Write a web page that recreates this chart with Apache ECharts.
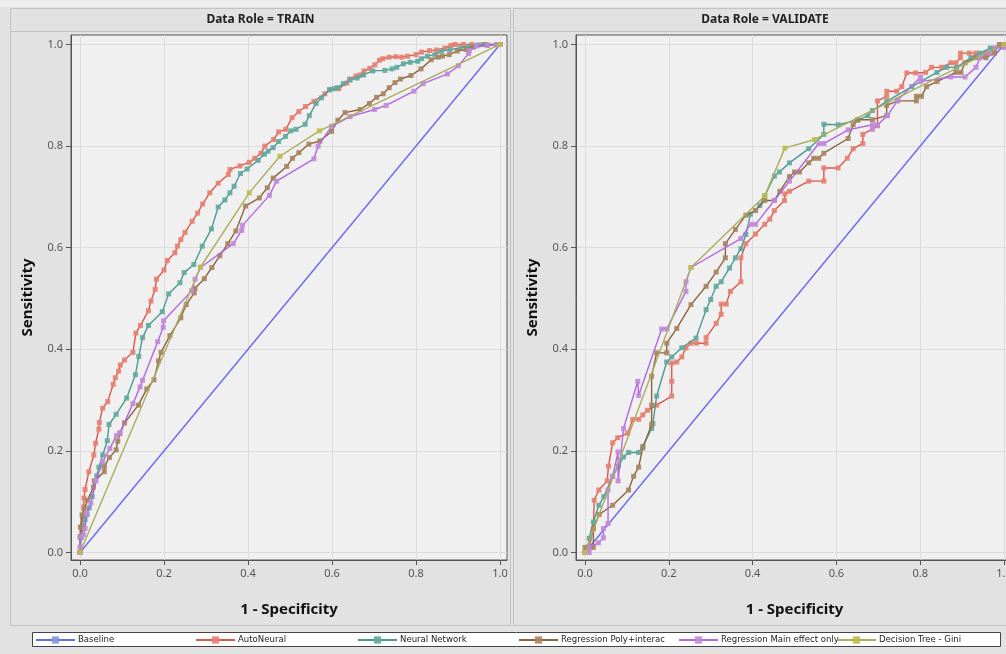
<!DOCTYPE html>
<html><head><meta charset="utf-8">
<script src="https://cdn.jsdelivr.net/npm/echarts@6/dist/echarts.min.js"></script>
<style>html,body{margin:0;padding:0;background:#e2e2e2}#c{width:1006px;height:654px}</style>
</head><body><div id="c"></div><script>
var seriesNames = ['Baseline','AutoNeural','Neural Network','Regression Poly+interac','Regression Main effect only','Decision Tree - Gini'];
var tickValues = [0, 0.2, 0.4, 0.6, 0.8, 1.0];
var panelTitles = ['Data Role = TRAIN', 'Data Role = VALIDATE'];

var trainBaseline = [[0,0],[1,1]];
var trainAutoNeural = [[0,0],[0.002,0.03],[0.004,0.05],[0.006,0.07],[0.009,0.09],[0.0095,0.107],[0.012,0.124],[0.021,0.159],[0.033,0.192],[0.037,0.215],[0.045,0.243],[0.046,0.256],[0.054,0.284],[0.066,0.297],[0.079,0.331],[0.084,0.344],[0.092,0.357],[0.096,0.369],[0.106,0.379],[0.126,0.394],[0.133,0.432],[0.144,0.447],[0.163,0.476],[0.169,0.495],[0.179,0.518],[0.182,0.538],[0.2,0.556],[0.208,0.575],[0.226,0.590],[0.232,0.603],[0.240,0.616],[0.25,0.630],[0.267,0.652],[0.280,0.668],[0.292,0.686],[0.309,0.708],[0.329,0.727],[0.353,0.744],[0.357,0.754],[0.381,0.761],[0.403,0.768],[0.416,0.776],[0.431,0.786],[0.440,0.800],[0.461,0.813],[0.473,0.828],[0.49,0.833],[0.505,0.856],[0.521,0.868],[0.537,0.878],[0.557,0.888],[0.583,0.903],[0.594,0.911],[0.616,0.913],[0.635,0.924],[0.642,0.932],[0.657,0.938],[0.667,0.940],[0.676,0.948],[0.69,0.953],[0.702,0.960],[0.713,0.969],[0.721,0.972],[0.736,0.975],[0.752,0.976],[0.766,0.975],[0.78,0.977],[0.8,0.980],[0.813,0.985],[0.832,0.988],[0.849,0.989],[0.869,0.993],[0.883,0.998],[0.893,1],[0.913,1],[0.933,1],[0.96,1],[1,1]];
var trainNeuralNetwork = [[0,0],[0.003,0.03],[0.007,0.05],[0.012,0.065],[0.017,0.075],[0.022,0.088],[0.029,0.11],[0.04,0.151],[0.045,0.168],[0.054,0.192],[0.065,0.220],[0.069,0.252],[0.086,0.272],[0.111,0.304],[0.132,0.350],[0.140,0.386],[0.149,0.423],[0.163,0.447],[0.196,0.474],[0.211,0.509],[0.238,0.531],[0.248,0.551],[0.271,0.567],[0.291,0.603],[0.313,0.637],[0.329,0.680],[0.345,0.694],[0.357,0.708],[0.367,0.721],[0.382,0.746],[0.398,0.755],[0.424,0.772],[0.439,0.784],[0.448,0.790],[0.460,0.797],[0.473,0.809],[0.489,0.819],[0.502,0.830],[0.514,0.833],[0.536,0.843],[0.546,0.860],[0.562,0.884],[0.575,0.895],[0.594,0.911],[0.605,0.913],[0.613,0.915],[0.627,0.923],[0.643,0.930],[0.66,0.934],[0.675,0.940],[0.697,0.948],[0.726,0.949],[0.743,0.952],[0.754,0.955],[0.77,0.962],[0.786,0.965],[0.804,0.967],[0.813,0.972],[0.827,0.977],[0.845,0.980],[0.861,0.987],[0.881,0.990],[0.905,0.993],[0.925,0.996],[0.948,0.999],[0.964,1],[1,1]];
var trainRegPoly = [[0,0],[0,0.031],[0.001,0.05],[0.005,0.074],[0.01,0.085],[0.018,0.103],[0.032,0.129],[0.034,0.141],[0.058,0.159],[0.058,0.169],[0.07,0.187],[0.086,0.202],[0.09,0.219],[0.095,0.234],[0.106,0.255],[0.139,0.29],[0.159,0.322],[0.176,0.34],[0.187,0.377],[0.193,0.394],[0.214,0.427],[0.24,0.462],[0.253,0.488],[0.272,0.511],[0.274,0.520],[0.296,0.539],[0.314,0.561],[0.333,0.584],[0.352,0.608],[0.371,0.633],[0.394,0.682],[0.427,0.698],[0.446,0.718],[0.46,0.737],[0.492,0.760],[0.506,0.776],[0.521,0.787],[0.545,0.804],[0.571,0.810],[0.599,0.829],[0.614,0.851],[0.631,0.866],[0.667,0.872],[0.689,0.884],[0.706,0.896],[0.722,0.903],[0.736,0.915],[0.75,0.925],[0.763,0.932],[0.788,0.939],[0.812,0.952],[0.836,0.970],[0.853,0.975],[0.863,0.977],[0.879,0.980],[0.898,0.987],[0.919,0.990],[0.937,0.995],[0.97,0.999],[0.992,1],[1,1]];
var trainRegMain = [[0,0],[0,0.011],[0.002,0.031],[0.008,0.035],[0.012,0.047],[0.016,0.077],[0.026,0.097],[0.038,0.141],[0.054,0.179],[0.071,0.205],[0.087,0.230],[0.095,0.236],[0.126,0.293],[0.143,0.326],[0.149,0.339],[0.185,0.415],[0.198,0.443],[0.199,0.456],[0.266,0.515],[0.274,0.538],[0.287,0.561],[0.365,0.608],[0.385,0.634],[0.387,0.644],[0.451,0.703],[0.468,0.731],[0.557,0.775],[0.567,0.800],[0.599,0.839],[0.643,0.858],[0.701,0.872],[0.729,0.880],[0.795,0.908],[0.817,0.923],[0.875,0.942],[0.901,0.958],[0.925,0.982],[0.927,0.988],[0.944,0.997],[0.97,0.998],[0.992,1],[1,1]];
var trainTree = [[0,0],[0.287,0.562],[0.403,0.708],[0.476,0.780],[0.570,0.830],[1,1]];

var validBaseline = [[0,0],[1,1]];
var validAutoNeural = [[0,0],[0.01,0.01],[0.02,0.047],[0.022,0.103],[0.033,0.123],[0.053,0.141],[0.056,0.170],[0.066,0.216],[0.078,0.226],[0.102,0.235],[0.114,0.262],[0.128,0.262],[0.138,0.271],[0.149,0.280],[0.171,0.290],[0.207,0.308],[0.207,0.337],[0.207,0.373],[0.219,0.375],[0.231,0.385],[0.241,0.403],[0.253,0.412],[0.266,0.412],[0.289,0.412],[0.289,0.423],[0.313,0.451],[0.325,0.469],[0.325,0.489],[0.337,0.489],[0.347,0.514],[0.372,0.533],[0.372,0.580],[0.384,0.608],[0.407,0.627],[0.429,0.646],[0.441,0.656],[0.452,0.673],[0.476,0.693],[0.477,0.706],[0.488,0.711],[0.534,0.731],[0.570,0.731],[0.570,0.757],[0.604,0.757],[0.626,0.776],[0.640,0.795],[0.663,0.805],[0.663,0.823],[0.698,0.84],[0.698,0.889],[0.72,0.898],[0.72,0.908],[0.744,0.908],[0.756,0.917],[0.768,0.944],[0.789,0.944],[0.813,0.945],[0.827,0.955],[0.851,0.955],[0.873,0.964],[0.885,0.964],[0.896,0.974],[0.896,0.983],[0.917,0.983],[0.933,0.983],[0.957,0.983],[0.977,0.991],[0.993,1],[1,1]];
var validNeuralNetwork = [[0,0],[0.007,0.011],[0.01,0.028],[0.02,0.06],[0.033,0.093],[0.045,0.11],[0.066,0.150],[0.08,0.17],[0.092,0.188],[0.104,0.197],[0.128,0.197],[0.138,0.209],[0.159,0.244],[0.162,0.254],[0.171,0.308],[0.195,0.375],[0.207,0.385],[0.231,0.403],[0.265,0.422],[0.289,0.478],[0.300,0.498],[0.313,0.524],[0.325,0.533],[0.345,0.56],[0.359,0.580],[0.372,0.598],[0.384,0.626],[0.395,0.666],[0.417,0.683],[0.429,0.702],[0.452,0.741],[0.464,0.749],[0.488,0.767],[0.534,0.795],[0.570,0.823],[0.570,0.843],[0.604,0.842],[0.651,0.851],[0.675,0.860],[0.686,0.870],[0.72,0.888],[0.780,0.917],[0.840,0.945],[0.863,0.955],[0.887,0.955],[0.921,0.974],[0.943,0.983],[0.967,0.993],[1,1]];
var validRegPoly = [[0,0],[0,0.01],[0.02,0.01],[0.02,0.047],[0.034,0.075],[0.066,0.093],[0.104,0.123],[0.116,0.150],[0.128,0.168],[0.138,0.206],[0.159,0.252],[0.159,0.290],[0.159,0.347],[0.171,0.393],[0.195,0.393],[0.195,0.412],[0.219,0.441],[0.253,0.488],[0.289,0.524],[0.313,0.552],[0.335,0.580],[0.335,0.608],[0.359,0.636],[0.384,0.664],[0.407,0.673],[0.429,0.693],[0.452,0.693],[0.465,0.711],[0.488,0.740],[0.500,0.749],[0.512,0.749],[0.534,0.767],[0.546,0.776],[0.558,0.776],[0.570,0.786],[0.628,0.815],[0.640,0.842],[0.651,0.852],[0.686,0.852],[0.720,0.860],[0.720,0.880],[0.746,0.889],[0.791,0.889],[0.791,0.898],[0.803,0.898],[0.815,0.917],[0.840,0.927],[0.885,0.945],[0.897,0.945],[0.907,0.964],[0.933,0.974],[0.957,0.974],[0.977,0.983],[0.989,1],[1,1]];
var validRegMain = [[0,0],[0.01,0],[0.01,0.01],[0.032,0.019],[0.044,0.029],[0.044,0.047],[0.055,0.057],[0.055,0.123],[0.066,0.150],[0.079,0.198],[0.079,0.141],[0.092,0.244],[0.126,0.337],[0.128,0.309],[0.183,0.44],[0.195,0.44],[0.241,0.514],[0.241,0.533],[0.253,0.561],[0.372,0.618],[0.395,0.646],[0.407,0.646],[0.452,0.693],[0.488,0.731],[0.558,0.805],[0.570,0.805],[0.628,0.832],[0.686,0.842],[0.686,0.833],[0.698,0.842],[0.722,0.860],[0.746,0.890],[0.801,0.936],[0.801,0.927],[0.873,0.936],[0.907,0.936],[0.933,0.955],[0.943,0.974],[0.965,0.983],[0.977,0.993],[1,0.994],[1,1]];
var validTree = [[0,0],[0.253,0.561],[0.429,0.702],[0.477,0.796],[0.548,0.813],[1,1]];

var lineColors = ['#6a6af0','#d9584f','#4a9a90','#8a6440','#b268e4','#a9ad5c'];
var markerColors = ['#7f9bd9','#e8806f','#62a9a0','#a8845e','#c08ad8','#bcbc4c'];

var trainData = [trainBaseline, trainAutoNeural, trainNeuralNetwork, trainRegPoly, trainRegMain, trainTree];
var validData = [validBaseline, validAutoNeural, validNeuralNetwork, validRegPoly, validRegMain, validTree];

var grids = [
  {left: 71, top: 35, width: 436, height: 525, xmin: -9/420, xmax: 1 + 7/420},
  {left: 576, top: 35, width: 437, height: 525, xmin: -9/419, xmax: 1 + 9/419}
];
var ymin = -7.5/508.5, ymax = 1 + 9.5/508.5;

var fontMain = "'Noto Sans', 'DejaVu Sans', sans-serif";

function makeXAxis(i) {
  return {
    type: 'value', gridIndex: i, min: grids[i].xmin, max: grids[i].xmax,
    axisLine: {show: true, onZero: false, lineStyle: {color: '#555'}},
    axisTick: {show: true, length: 5, customValues: tickValues, lineStyle: {color: '#555'}},
    axisLabel: {customValues: tickValues, formatter: function(v){return v.toFixed(1);}, color: '#555', fontSize: 11, margin: 8, fontFamily: fontMain},
    splitLine: {show: true, lineStyle: {color: '#dcdcdc', width: 1}},
    name: '1 - Specificity', nameLocation: 'middle', nameGap: 42,
    nameTextStyle: {fontSize: 15, fontWeight: 'bold', color: '#111', fontFamily: fontMain}
  };
}
function makeYAxis(i) {
  return {
    type: 'value', gridIndex: i, min: ymin, max: ymax,
    axisLine: {show: true, onZero: false, lineStyle: {color: '#555'}},
    axisTick: {show: true, length: 5, customValues: tickValues, lineStyle: {color: '#555'}},
    axisLabel: {customValues: tickValues, formatter: function(v){return v.toFixed(1);}, color: '#555', fontSize: 11, margin: 8, fontFamily: fontMain},
    splitLine: {show: true, lineStyle: {color: '#dcdcdc', width: 1}},
    name: 'Sensitivity', nameLocation: 'middle', nameGap: 36,
    nameTextStyle: {fontSize: 15, fontWeight: 'bold', color: '#111', fontFamily: fontMain}
  };
}

var series = [];
[trainData, validData].forEach(function(set, gi) {
  set.forEach(function(d, si) {
    series.push({
      name: seriesNames[si], type: 'line', xAxisIndex: gi, yAxisIndex: gi,
      data: d, symbol: 'rect', symbolSize: si === 0 ? 4 : 5, showAllSymbol: true,
      lineStyle: {color: lineColors[si], width: 1.4},
      itemStyle: {color: markerColors[si], opacity: 0.9},
      z: si === 0 ? 1 : 2 + si,
      emphasis: {disabled: true}
    });
  });
});

var legendLefts = [35, 195, 357, 518, 678, 836];
var legends = seriesNames.map(function(n, i) {
  return {
    data: [n], left: legendLefts[i], top: 635, padding: 0, itemWidth: 39, itemHeight: 9, itemGap: 0,
    textStyle: {fontSize: 9.5, color: '#222', fontFamily: "'Liberation Sans Narrow', 'DejaVu Sans Condensed', sans-serif", padding: [0,0,0,-2]},
    selectedMode: false
  };
});

var graphics = [
  {type: 'rect', shape: {x: 0, y: 0, width: 1006, height: 7}, style: {fill: '#eeeeee'}, z: -20},
  {type: 'rect', shape: {x: 10.5, y: 8.5, width: 500, height: 617}, style: {fill: '#e2e2e2', stroke: '#c2c2c2', lineWidth: 1}, z: -10},
  {type: 'line', shape: {x1: 10.5, y1: 31.5, x2: 510.5, y2: 31.5}, style: {stroke: '#c2c2c2', lineWidth: 1}, z: -9},
  {type: 'rect', shape: {x: 513.5, y: 8.5, width: 500, height: 617}, style: {fill: '#e2e2e2', stroke: '#c2c2c2', lineWidth: 1}, z: -10},
  {type: 'line', shape: {x1: 513.5, y1: 31.5, x2: 1013.5, y2: 31.5}, style: {stroke: '#c2c2c2', lineWidth: 1}, z: -9},
  {type: 'rect', shape: {x: 32.5, y: 632.5, width: 968, height: 14}, style: {fill: '#ffffff', stroke: '#444', lineWidth: 1}, z: -10},
  {type: 'text', x: 260.5, y: 20, style: {text: panelTitles[0], fill: '#222', font: "bold 12px 'Noto Sans', 'DejaVu Sans', sans-serif", textAlign: 'center', textVerticalAlign: 'middle'}, z: 5},
  {type: 'text', x: 765, y: 20, style: {text: panelTitles[1], fill: '#222', font: "bold 12px 'Noto Sans', 'DejaVu Sans', sans-serif", textAlign: 'center', textVerticalAlign: 'middle'}, z: 5}
];

var chart = echarts.init(document.getElementById('c'), null, {renderer: 'canvas'});
chart.setOption({
  animation: false,
  backgroundColor: '#e2e2e2',
  grid: grids.map(function(g){return {left: g.left, top: g.top, width: g.width, height: g.height, show: true, backgroundColor: '#f0f0f0', borderColor: '#555', borderWidth: 1, containLabel: false, outerBoundsMode: 'none'};}),
  xAxis: [makeXAxis(0), makeXAxis(1)],
  yAxis: [makeYAxis(0), makeYAxis(1)],
  legend: legends,
  graphic: graphics,
  series: series
});
</script></body></html>
